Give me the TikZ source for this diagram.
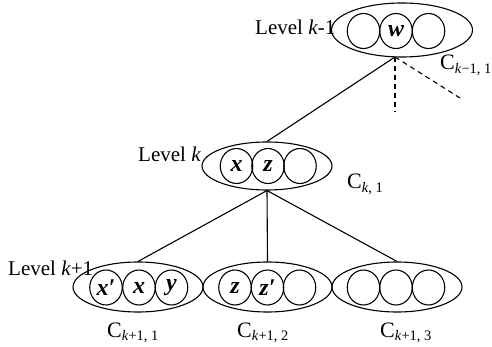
\documentclass[tikz,border=0pt]{standalone}
\usepackage{fontspec}
\setmainfont{Liberation Serif}
\usetikzlibrary{shapes.geometric}
\tikzset{
  grp/.style={draw, ellipse, line width=1.1pt, inner sep=0pt},
  cell/.style={draw, ellipse, line width=1.1pt, inner sep=0pt, minimum width=32.5pt, minimum height=35pt,
    font=\fontsize{24}{24}\selectfont\bfseries\itshape},
  lvl/.style={anchor=base west, inner sep=0pt, font=\fontsize{21}{21}\selectfont},
  clab/.style={anchor=base west, inner sep=0pt, font=\fontsize{22}{22}\selectfont},
  conn/.style={line width=1.1pt},
  dconn/.style={line width=1.1pt, dash pattern=on 5pt off 4pt},
}
\newcommand{\sublab}[1]{{\fontsize{14.5}{14.5}\selectfont\raisebox{-3.5pt}{#1}}}
\begin{document}
\begin{tikzpicture}[x=1pt,y=-1pt]
\useasboundingbox (0,0) rectangle (492,347);
% groups
\node[grp, minimum width=141pt, minimum height=54pt] (top) at (402,30) {};
\node[grp, minimum width=130pt, minimum height=48pt] (mid) at (267,166) {};
\node[grp, minimum width=130pt, minimum height=50pt] (b1) at (138,287) {};
\node[grp, minimum width=129pt, minimum height=50pt] (b2) at (267.5,287) {};
\node[grp, minimum width=130pt, minimum height=50pt] (b3) at (397,287) {};
% cells
\node[cell] (t1) at (363.5,31) {};
\node[cell] (t2) at (396,31) {w};
\node[cell] (t3) at (428.5,31) {};
\node[cell] (m1) at (236.5,166) {x};
\node[cell] (m2) at (268,166) {z};
\node[cell] (m3) at (300,166) {};
\node[cell] (a1) at (106,287.5) {x′};
\node[cell] (a2) at (139,287.5) {x};
\node[cell] (a3) at (171.5,287.5) {y};
\node[cell] (c1) at (235,287.5) {z};
\node[cell] (c2) at (267.5,287.5) {z′};
\node[cell] (c3) at (299.5,287.5) {};
\node[cell] (d1) at (363.5,287.5) {};
\node[cell] (d2) at (396,287.5) {};
\node[cell] (d3) at (428.5,287.5) {};
% connectors
\coordinate (tb) at (395,57);
\coordinate (e1) at (395,112);
\coordinate (e2) at (460,98);
\draw[conn] (tb) -- (mid.north);
\draw[dconn] (tb) -- (e1);
\draw[dconn] (tb) -- (e2);
\draw[conn] (mid.south) -- (b1.north);
\draw[conn] (mid.south) -- (b2.north);
\draw[conn] (mid.south) -- (b3.north);
% labels
\node[lvl] (l1) at (255,35) {Level \textit{k}-1};
\node[lvl] (l2) at (138,162) {Level \textit{k}};
\node[lvl] (l3) at (8,275) {Level \textit{k}+1};
\node[clab] (ct) at (440,70) {C\sublab{\textit{k}−1, 1}};
\node[clab] (cm) at (347,189) {C\sublab{\textit{k}, 1}};
\node[clab] (cb1) at (107,337) {C\sublab{\textit{k}+1, 1}};
\node[clab] (cb2) at (237,337) {C\sublab{\textit{k}+1, 2}};
\node[clab] (cb3) at (380,337) {C\sublab{\textit{k}+1, 3}};
\end{tikzpicture}
\end{document}
